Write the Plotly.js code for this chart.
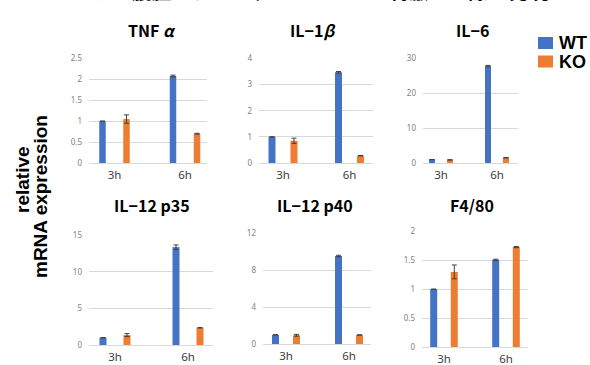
<!DOCTYPE html>
<html><head><meta charset="utf-8">
<script src="https://cdn.plot.ly/plotly-3.0.1.min.js"></script>
<style>html,body{margin:0;padding:0;background:#fff}#chart{width:590px;height:365px}</style>
</head><body><div id="chart"></div>
<script>
const timepoints = ["3h", "6h"];
const seriesNames = ["WT", "KO"];
const panelTitles = ["TNF <i>α</i>", "IL−1<i>β</i>", "IL−6", "IL−12 p35", "IL−12 p40", "F4/80"];
const wtValues = [[1, 2.08], [1, 3.47], [1, 27.8], [1, 13.4], [1, 9.55], [1, 1.51]];
const koValues = [[1.05, 0.70], [0.85, 0.28], [0.9, 1.5], [1.36, 2.36], [0.95, 0.98], [1.30, 1.73]];
const wtErrors = [[0, 0.02], [0, 0.03], [0, 0.2], [0, 0.3], [0, 0.08], [0, 0.01]];
const koErrors = [[0.1, 0.01], [0.1, 0.01], [0.05, 0.05], [0.2, 0.02], [0.1, 0.02], [0.12, 0.01]];
const yMax = [2.5, 4, 30, 15, 12, 2];
const yStep = [0.5, 1, 10, 5, 4, 0.5];
const figTitle = "KOマウス腹腔マクロファージをLPSで刺激した際の発現量";
const yTitleLines = ["relative", "mRNA expression"];

// geometry in pixels (590x365 canvas)
const W = 590, H = 365;
const geom = [
  {x: [89, 207], y: [58, 163], c: [114.5, 185], off: 12, w: 6.5, t: [152, 30]},
  {x: [259, 373], y: [58, 163], c: [283, 349.5], off: 11, w: 7, t: [313, 30]},
  {x: [423, 518], y: [58, 163], c: [441, 497], off: 9, w: 6, t: [472, 30]},
  {x: [89, 213], y: [235, 345], c: [115, 188], off: 12, w: 7, t: [152, 205]},
  {x: [263, 371], y: [233, 344], c: [286, 349], off: 10.5, w: 7, t: [315, 205]},
  {x: [422, 528], y: [231, 347], c: [444, 506], off: 10.3, w: 7, t: [472, 205]}
];
const legendBoxes = [{x0: 538, x1: 553, y0: 37, y1: 49}, {x0: 538, x1: 553, y0: 55.5, y1: 67.5}];
const yTitlePos = [{x: 22, y: 180}, {x: 40, y: 197}];
const colors = {WT: "#4472C4", KO: "#ED7D31"};
const errStyle = {color: "#404040", thickness: 1, width: 2.5};

const traces = [];
const layout = {
  width: W, height: H,
  margin: {l: 0, r: 0, t: 0, b: 0},
  paper_bgcolor: "#fff", plot_bgcolor: "#fff",
  barmode: "overlay",
  showlegend: false,
  annotations: [],
  shapes: [],
  font: {family: "Noto Sans", color: "#404040"}
};

// legend drawn as swatches + labels
seriesNames.forEach((s, k) => {
  const b = legendBoxes[k];
  layout.shapes.push({
    type: "rect", xref: "paper", yref: "paper",
    x0: b.x0 / W, x1: b.x1 / W, y0: 1 - b.y1 / H, y1: 1 - b.y0 / H,
    fillcolor: colors[s], line: {width: 0}
  });
  layout.annotations.push({
    text: s, xref: "paper", yref: "paper",
    x: (b.x1 + 4) / W, y: 1 - (b.y0 + b.y1) / 2 / H, xanchor: "left", yanchor: "middle",
    showarrow: false,
    font: {family: "Liberation Sans", size: 18, color: "#000", weight: "bold"}
  });
});

geom.forEach((g, i) => {
  const n = i + 1;
  const u = g.c[1] - g.c[0];
  const xa = "x" + (n === 1 ? "" : n), ya = "y" + (n === 1 ? "" : n);
  const seriesVals = [wtValues[i], koValues[i]];
  const seriesErr = [wtErrors[i], koErrors[i]];
  seriesNames.forEach((s, k) => {
    const centerOff = (k === 0 ? -g.off : g.off);
    traces.push({
      type: "bar", name: s, x: timepoints, y: seriesVals[k],
      xaxis: xa, yaxis: ya,
      width: g.w / u, offset: (centerOff - g.w / 2) / u,
      marker: {color: colors[s]},
      error_y: Object.assign({type: "data", array: seriesErr[k], visible: true}, errStyle),
      hoverinfo: "skip"
    });
  });
  layout["xaxis" + (n === 1 ? "" : n)] = {
    domain: [g.x[0] / W, g.x[1] / W], anchor: ya,
    type: "category",
    range: [(g.x[0] - g.c[0]) / u, (g.x[1] - g.c[0]) / u],
    showgrid: false, zeroline: false, showline: true, linecolor: "#d9d9d9", linewidth: 1,
    ticks: "", ticklabelstandoff: 1,
    tickfont: {family: "Noto Sans", size: 11.5, color: "#404040"},
    fixedrange: true
  };
  layout["yaxis" + (n === 1 ? "" : n)] = {
    domain: [1 - g.y[1] / H, 1 - g.y[0] / H], anchor: xa,
    range: [0, yMax[i] * 1.004], dtick: yStep[i], tick0: 0,
    showgrid: true, gridcolor: "#d9d9d9", gridwidth: 1, zeroline: false, showline: false,
    ticks: "", ticklabelstandoff: 6,
    tickfont: {family: "Noto Sans", size: 8, color: "#7f7f7f"},
    fixedrange: true
  };
  layout.annotations.push({
    text: panelTitles[i], xref: "paper", yref: "paper",
    x: g.t[0] / W, y: 1 - g.t[1] / H, xanchor: "center", yanchor: "middle",
    showarrow: false,
    font: {family: "Noto Sans CJK JP", size: 16, color: "#000", weight: "bold"}
  });
});

yTitleLines.forEach((line, k) => {
  layout.annotations.push({
    text: line, xref: "paper", yref: "paper",
    x: yTitlePos[k].x / W, y: 1 - yTitlePos[k].y / H, xanchor: "center", yanchor: "middle",
    textangle: -90, showarrow: false,
    font: {family: "Liberation Sans", size: 19, color: "#000", weight: "bold"}
  });
});
layout.annotations.push({
  text: figTitle, xref: "paper", yref: "paper",
  x: 305 / W, y: 1 - 7 / H, xanchor: "center", yanchor: "bottom",
  showarrow: false,
  font: {family: "Noto Sans CJK JP", size: 20, color: "#000", weight: "bold"}
});

Plotly.newPlot("chart", traces, layout, {staticPlot: true, displayModeBar: false});
</script>
</body></html>
